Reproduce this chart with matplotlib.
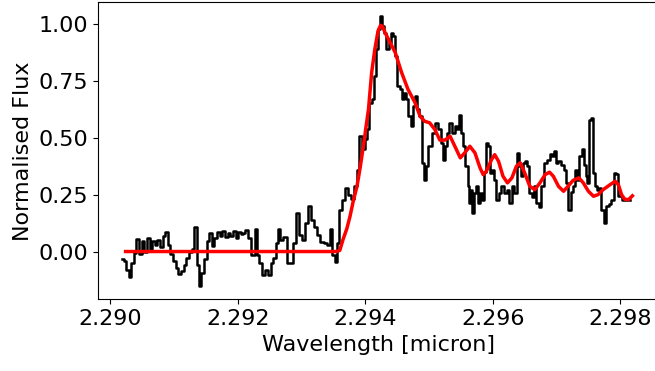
import numpy as np
import matplotlib
matplotlib.use("Agg")
import matplotlib.pyplot as plt

# observed spectrum (step plot)
wave_obs = [2.29019, 2.29023, 2.29027, 2.29031, 2.29035, 2.29039, 2.29043, 2.29047, 2.29051, 2.29056,
            2.29060, 2.29064, 2.29068, 2.29072, 2.29076, 2.29081, 2.29085, 2.29088, 2.29092, 2.29096,
            2.29100, 2.29105, 2.29109, 2.29113, 2.29117, 2.29121, 2.29125, 2.29130, 2.29134, 2.29138,
            2.29141, 2.29145, 2.29149, 2.29153, 2.29157, 2.29161, 2.29165, 2.29169, 2.29174, 2.29178,
            2.29182, 2.29186, 2.29190, 2.29195, 2.29199, 2.29203, 2.29207,
            2.29209, 2.29214, 2.29219, 2.29224, 2.29229, 2.29232, 2.29236, 2.29240, 2.29245, 2.29249,
            2.29254, 2.29258, 2.29261, 2.29265, 2.29269, 2.29274, 2.29279, 2.29284, 2.29289, 2.29294,
            2.29299, 2.29303, 2.29308, 2.29313, 2.29317, 2.29323, 2.29327, 2.29332, 2.29337, 2.29343,
            2.29347, 2.29350, 2.29354, 2.29358, 2.29361, 2.29365, 2.29371, 2.29375, 2.29379,
            2.29385, 2.29389, 2.29392, 2.29397, 2.29401, 2.29405, 2.29408, 2.29413, 2.29415, 2.29418,
            2.29421, 2.29424, 2.29427, 2.29431, 2.29435, 2.29438, 2.29442, 2.29445, 2.29449, 2.29452,
            2.29456, 2.29459, 2.29462, 2.29466, 2.29469, 2.29473, 2.29476, 2.29480, 2.29483, 2.29487,
            2.29490, 2.29494, 2.29497, 2.29501, 2.29507, 2.29512,
            2.29516, 2.29520, 2.29523, 2.29527, 2.29530, 2.29534, 2.29538, 2.29542, 2.29546, 2.29549,
            2.29552, 2.29555, 2.29559, 2.29562, 2.29564, 2.29567, 2.29569, 2.29572, 2.29575, 2.29578,
            2.29581, 2.29585, 2.29588, 2.29591, 2.29594, 2.29597, 2.29600, 2.29603, 2.29607, 2.29611,
            2.29616, 2.29620, 2.29624, 2.29628, 2.29632, 2.29636, 2.29640, 2.29643, 2.29646, 2.29649,
            2.29652, 2.29656, 2.29659, 2.29664, 2.29666, 2.29670,
            2.29674, 2.29678, 2.29682, 2.29687, 2.29691, 2.29695, 2.29698, 2.29701, 2.29705, 2.29710,
            2.29714, 2.29717, 2.29720, 2.29724, 2.29727, 2.29731, 2.29734, 2.29738, 2.29741, 2.29744,
            2.29747, 2.29750, 2.29752, 2.29756, 2.29758, 2.29762, 2.29765, 2.29769, 2.29772, 2.29776,
            2.29780, 2.29784, 2.29788, 2.29792, 2.29795, 2.29799, 2.29805, 2.29810, 2.29815]
flux_obs = [-0.032, -0.04, -0.08, -0.11, -0.05, -0.007, 0.055, -0.01, 0.045, 0.0,
            0.06, 0.01, 0.045, 0.03, 0.05, 0.02, 0.07, 0.084, 0.03, -0.01,
            -0.04, -0.073, -0.10, -0.085, -0.06, -0.03, 0.0, 0.01, 0.11, -0.06,
            -0.15, -0.095, -0.035, 0.045, 0.08, 0.025, 0.06, 0.085, 0.07, 0.09,
            0.065, 0.08, 0.07, 0.09, 0.06, 0.085, 0.075,
            0.081, 0.096, 0.059, -0.015, 0.099, -0.015, -0.051, -0.103, -0.081, -0.103,
            -0.051, -0.029, 0.037, 0.099, 0.052, 0.066, -0.051, -0.051, 0.037, 0.169,
            0.074, 0.052, 0.125, 0.199, 0.14, 0.11, 0.074, 0.044, 0.037, 0.03,
            0.099, -0.015, -0.044, 0.037, 0.184, 0.228, 0.28, 0.25, 0.23,
            0.287, 0.36, 0.507, 0.449, 0.493, 0.537, 0.655, 0.669, 0.772, 0.89,
            0.978, 1.037, 0.993, 0.963, 0.89, 0.919, 0.963, 0.95, 0.86, 0.728,
            0.713, 0.669, 0.699, 0.669, 0.595, 0.551, 0.64, 0.684, 0.625, 0.595,
            0.39, 0.316, 0.375, 0.463, 0.522, 0.566,
            0.537, 0.478, 0.404, 0.463, 0.522, 0.566, 0.522, 0.551, 0.537, 0.60,
            0.522, 0.463, 0.375, 0.287, 0.213, 0.272, 0.169, 0.257, 0.287, 0.213,
            0.257, 0.228, 0.35, 0.478, 0.463, 0.346, 0.36, 0.316, 0.228, 0.257,
            0.287, 0.257, 0.272, 0.213, 0.287, 0.257, 0.434, 0.375, 0.33, 0.39,
            0.40, 0.375, 0.257, 0.242, 0.287, 0.213,
            0.198, 0.287, 0.39, 0.404, 0.43, 0.42, 0.44, 0.39, 0.397, 0.38,
            0.36, 0.30, 0.184, 0.26, 0.29, 0.36, 0.316, 0.42, 0.449, 0.38,
            0.33, 0.302, 0.58, 0.588, 0.346, 0.29, 0.272, 0.28, 0.184, 0.125,
            0.20, 0.21, 0.228, 0.346, 0.34, 0.243, 0.228, 0.225, 0.225]

# model fit
wave_mod = [2.29024, 2.29141, 2.29298, 2.29354, 2.29360, 2.29365, 2.29371, 2.29376, 2.29381, 2.29387,
            2.29392, 2.29397, 2.29401, 2.29405, 2.29410, 2.29415, 2.29420, 2.29424, 2.29427, 2.29431,
            2.29439, 2.29447, 2.29457, 2.29467, 2.29478, 2.29486, 2.29493, 2.29501, 2.29509, 2.29517,
            2.29525, 2.29533, 2.29541, 2.29549, 2.29556, 2.29564, 2.29572, 2.29580, 2.29585, 2.29590,
            2.29598, 2.29603, 2.29609, 2.29616, 2.29623, 2.29630, 2.29637, 2.29643, 2.29650, 2.29658,
            2.29666, 2.29674, 2.29682, 2.29689, 2.29695, 2.29703, 2.29711, 2.29718, 2.29726, 2.29735,
            2.29742, 2.29750, 2.29758, 2.29765, 2.29773, 2.29784, 2.29792, 2.29797, 2.29802, 2.29807,
            2.29813, 2.29819]
flux_mod = [0.0, 0.0, 0.0, 0.0, 0.005, 0.052, 0.10, 0.154, 0.22, 0.287,
            0.37, 0.463, 0.545, 0.625, 0.787, 0.89, 0.97, 0.995, 0.99, 0.963,
            0.919, 0.875, 0.787, 0.713, 0.655, 0.595, 0.573, 0.566, 0.537, 0.49,
            0.49, 0.507, 0.46, 0.412, 0.434, 0.463, 0.434, 0.368, 0.338, 0.353,
            0.404, 0.426, 0.397, 0.331, 0.302, 0.324, 0.375, 0.39, 0.346, 0.287,
            0.272, 0.302, 0.338, 0.349, 0.331, 0.287, 0.265, 0.287, 0.313, 0.324,
            0.302, 0.265, 0.243, 0.25, 0.272, 0.294, 0.309, 0.294, 0.25, 0.23,
            0.228, 0.245]

xticks = [2.290, 2.292, 2.294, 2.296, 2.298]
yticks = [0.00, 0.25, 0.50, 0.75, 1.00]

plt.rcParams['font.size'] = 16
fig = plt.figure(figsize=(6.55, 3.71), dpi=100)
ax = fig.add_axes([0.1489, 0.1933, 0.8565, 0.8005])

ax.step(wave_obs, flux_obs, where='mid', color='black', lw=1.8)
ax.plot(wave_mod, flux_mod, color='red', lw=2.5)

ax.set_xlim(2.2898, 2.2986)
ax.set_ylim(-0.21, 1.096)
ax.set_xticks(xticks)
ax.set_xticklabels(["%.3f" % t for t in xticks])
ax.set_yticks(yticks)
ax.set_yticklabels(["%.2f" % t for t in yticks])
ax.set_xlabel("Wavelength [micron]")
ax.set_ylabel("Normalised Flux")

fig.savefig("out.png", dpi=100)
